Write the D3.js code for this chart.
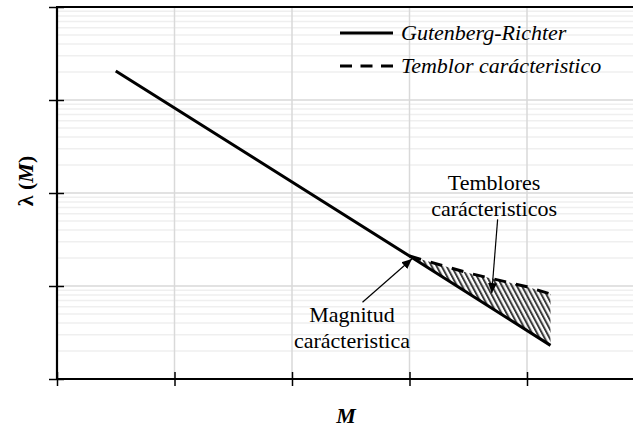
<!DOCTYPE html>
<html><head><meta charset="utf-8">
<script src="https://cdn.jsdelivr.net/npm/d3@7"></script>
<style>body{margin:0;background:#fff}svg{display:block}</style>
</head><body>
<script>
// Data
const grM = [4.5, 7.0, 8.2];
const grLambda = [2050, 21, 2.3];
const chM = [7.0, 7.5, 8.0, 8.2];
const chLambda = [21, 13.8, 9.8, 8.2];
const xTicks = [4, 5, 6, 7, 8];
const yTicks = [1, 10, 100, 1000, 10000];
const legendLabels = ["Gutenberg-Richter", "Temblor carácteristico"];
const annTemblores = ["Temblores", "carácteristicos"];
const annMagnitud = ["Magnitud", "carácteristica"];

const W = 633, H = 427;
const FONT = '"Liberation Serif", Tinos, "Times New Roman", serif';

const svg = d3.select("body").append("svg").attr("width", W).attr("height", H);
const x = d3.scaleLinear().domain([4, 9]).range([57, 644.5]);
const y = d3.scaleLog().domain([1, 10000]).range([379, 7]);

const defs = svg.append("defs");
const pat = defs.append("pattern").attr("id", "hatch").attr("patternUnits", "userSpaceOnUse")
  .attr("width", 4.4).attr("height", 10).attr("patternTransform", "rotate(-28)");
pat.append("rect").attr("x", 0).attr("y", 0).attr("width", 2).attr("height", 10).attr("fill", "#3a3a3a");
defs.append("marker").attr("id", "arr").attr("viewBox", "0 0 10 10").attr("refX", 10).attr("refY", 5)
  .attr("markerWidth", 10).attr("markerHeight", 10).attr("markerUnits", "userSpaceOnUse").attr("orient", "auto")
  .append("path").attr("d", "M0,0.5L10,5L0,9.5Z").attr("fill", "#000");

// grid: minor (log minor lines)
const minor = [];
for (let k = 0; k < 4; k++) for (let m = 2; m <= 9; m++) minor.push(m * Math.pow(10, k));
svg.append("g").selectAll("line").data(minor).join("line")
  .attr("x1", x(4)).attr("x2", W).attr("y1", d => y(d)).attr("y2", d => y(d))
  .attr("stroke", "#efefef").attr("stroke-width", 1.5);
// grid: major
svg.append("g").selectAll("line").data(yTicks.slice(1, 4)).join("line")
  .attr("x1", x(4)).attr("x2", W).attr("y1", d => y(d)).attr("y2", d => y(d))
  .attr("stroke", "#d9d9d9").attr("stroke-width", 1.5);
svg.append("g").selectAll("line").data(xTicks.slice(1)).join("line")
  .attr("y1", y(1)).attr("y2", y(10000)).attr("x1", d => x(d)).attr("x2", d => x(d))
  .attr("stroke", "#d9d9d9").attr("stroke-width", 1.5);

// hatched area
const poly = chM.map((m, i) => [m, chLambda[i]]).concat(grM.slice(1).map((m, i) => [m, grLambda[i + 1]]).reverse());
const line = d3.line().x(d => x(d[0])).y(d => y(d[1]));
svg.append("path").attr("d", line(poly) + "Z").attr("fill", "url(#hatch)");

// lines
svg.append("path").attr("d", line(chM.map((m, i) => [m, chLambda[i]])))
  .attr("fill", "none").attr("stroke", "#000").attr("stroke-width", 3).attr("stroke-dasharray", "12,10");
svg.append("path").attr("d", line(grM.map((m, i) => [m, grLambda[i]])))
  .attr("fill", "none").attr("stroke", "#000").attr("stroke-width", 3);

// axes
const xa = svg.append("g").attr("transform", `translate(0,${y(1)})`)
  .call(d3.axisBottom(x).tickValues(xTicks).tickSize(7).tickFormat(""));
xa.select(".domain").remove();
xa.selectAll(".tick line").attr("y1", -7).attr("stroke-width", 1.5);
const ya = svg.append("g").attr("transform", `translate(${x(4)},0)`)
  .call(d3.axisLeft(y).tickValues(yTicks).tickSize(8).tickFormat(""));
ya.select(".domain").remove();
ya.selectAll(".tick line").attr("x2", -8).attr("x1", 7).attr("stroke-width", 1.5);
svg.append("line").attr("x1", x(4) - 1).attr("x2", W).attr("y1", y(1)).attr("y2", y(1)).attr("stroke", "#000").attr("stroke-width", 2.2);
svg.append("line").attr("x1", x(4) - 1).attr("x2", W).attr("y1", y(10000)).attr("y2", y(10000)).attr("stroke", "#000").attr("stroke-width", 2.2);
svg.append("line").attr("x1", x(4)).attr("x2", x(4)).attr("y1", y(10000)).attr("y2", y(1)).attr("stroke", "#000").attr("stroke-width", 2.2);

// axis labels
svg.append("text").attr("x", 346).attr("y", 423).attr("text-anchor", "middle").style("font-family", FONT)
  .attr("font-size", 22).attr("font-weight", "bold").attr("font-style", "italic").text("M");
svg.append("text").attr("transform", "translate(33,181) rotate(-90)").attr("text-anchor", "middle")
  .style("font-family", FONT).attr("font-size", 22).attr("font-weight", "bold")
  .call(t => { t.append("tspan").text("λ ("); t.append("tspan").attr("font-style", "italic").text("M"); t.append("tspan").text(")"); });

// legend
legendLabels.forEach((lab, i) => {
  const ly = 33 + i * 33;
  svg.append("line").attr("x1", 340).attr("x2", 393).attr("y1", ly).attr("y2", ly)
    .attr("stroke", "#000").attr("stroke-width", 3).attr("stroke-dasharray", i ? "12,8.5" : null);
  svg.append("text").attr("x", 401).attr("y", ly + 7).style("font-family", FONT).attr("font-size", 22)
    .attr("font-style", "italic").text(lab);
});

// annotations
const ann = (lines, cx, by) => lines.forEach((l, i) => svg.append("text").attr("x", cx).attr("y", by + i * 26)
  .attr("text-anchor", "middle").style("font-family", FONT).attr("font-size", 22).text(l));
ann(annTemblores, x(7.72), y(Math.pow(10, (379 - 190) / 93)));
ann(annMagnitud, x(6.51), y(Math.pow(10, (379 - 322) / 93)));
svg.append("line").attr("x1", x(7.75)).attr("y1", y(52)).attr("x2", x(7.70)).attr("y2", y(8.4))
  .attr("stroke", "#000").attr("stroke-width", 1.2).attr("marker-end", "url(#arr)");
svg.append("line").attr("x1", x(6.6)).attr("y1", y(6.7)).attr("x2", x(7.02)).attr("y2", y(19.5))
  .attr("stroke", "#000").attr("stroke-width", 1.2).attr("marker-end", "url(#arr)");
</script>
</body></html>
